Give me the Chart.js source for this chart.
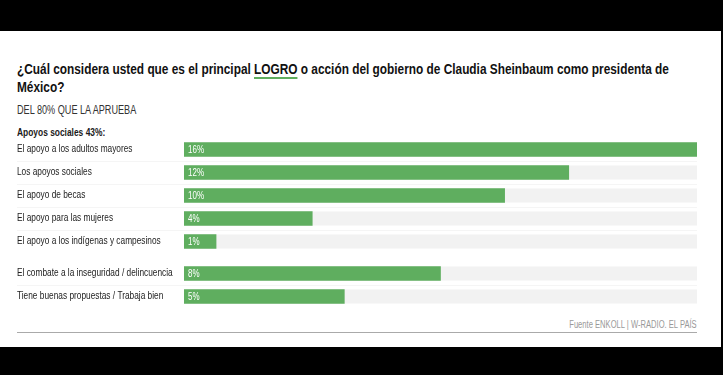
<!DOCTYPE html>
<html>
<head>
<meta charset="utf-8">
<script src="https://cdn.jsdelivr.net/npm/chart.js@4"></script>
<style>
  body { margin: 0; background: #000; width: 723px; height: 375px; overflow: hidden; }
  #panel { position: absolute; left: 0; top: 31px; width: 721px; height: 316px; background: #fff; }
  .txt { position: absolute; font-family: "Liberation Sans", Arial, sans-serif; color: #1a1a1a; white-space: nowrap; transform-origin: left top; }
  #title { left: 17px; top: 29px; font-size: 15px; font-weight: bold; line-height: 18px; color: #111; transform: scaleX(0.79); }
  #title u { text-decoration: none; border-bottom: 2px solid #5fae5f; }
  #subtitle { left: 17px; top: 72px; font-size: 12px; color: #333; transform: scaleX(0.76); }
  #group { left: 17px; top: 95px; font-size: 10.5px; font-weight: bold; transform: scaleX(0.8); }
  #source { right: 24px; top: 288px; font-size: 10px; color: #999; transform-origin: right top; transform: scaleX(0.76); }
  #rule { position: absolute; left: 17px; top: 301px; width: 680px; height: 1px; background: #aaa; }
  .box { position: absolute; left: 17px; width: 680px; }
  #c1box { top: 107px; height: 115px; }
  #c2box { top: 231px; height: 46px; }
</style>
</head>
<body>
<div id="panel">
  <div class="txt" id="title">¿Cuál considera usted que es el principal <u>LOGRO</u> o acción del gobierno de Claudia Sheinbaum como presidenta de<br>México?</div>
  <div class="txt" id="subtitle">DEL 80% QUE LA APRUEBA</div>
  <div class="txt" id="group">Apoyos sociales 43%:</div>
  <div class="box" id="c1box"><canvas id="chart1"></canvas></div>
  <div class="box" id="c2box"><canvas id="chart2"></canvas></div>
  <div class="txt" id="source">Fuente ENKOLL | W-RADIO. EL PAÍS</div>
  <div id="rule"></div>
</div>
<script>
// data
const socialLabels = [
  'El apoyo a los adultos mayores',
  'Los apoyos sociales',
  'El apoyo de becas',
  'El apoyo para las mujeres',
  'El apoyo a los indígenas y campesinos'
];
const socialValues = [16, 12, 10, 4, 1];

const otherLabels = [
  'El combate a la inseguridad / delincuencia',
  'Tiene buenas propuestas / Trabaja bien'
];
const otherValues = [8, 5];

const scaleMax = 16;

const green = '#5fae5f';
const track = '#f2f2f2';
const fontFamily = '"Liberation Sans", Arial, sans-serif';
const narrow = 0.8; // squeeze text horizontally, the original uses a condensed face

// grey track, faint row lines, category labels and value labels
const barExtras = {
  id: 'barExtras',
  beforeDatasetsDraw(chart) {
    const ctx = chart.ctx;
    const area = chart.chartArea;
    const meta = chart.getDatasetMeta(0);
    ctx.save();
    meta.data.forEach((bar, i) => {
      const h = bar.height;
      ctx.fillStyle = track;
      ctx.fillRect(area.left, bar.y - h / 2, area.right - area.left, h);
      if (i < meta.data.length - 1) {
        const next = meta.data[i + 1];
        const y = Math.round((bar.y + next.y) / 2) + 0.5;
        ctx.strokeStyle = '#f5f5f5';
        ctx.lineWidth = 1;
        ctx.beginPath();
        ctx.moveTo(0, y);
        ctx.lineTo(area.right, y);
        ctx.stroke();
      }
    });
    ctx.restore();
  },
  afterDatasetsDraw(chart) {
    const ctx = chart.ctx;
    const meta = chart.getDatasetMeta(0);
    const values = chart.data.datasets[0].data;
    const labels = chart.data.labels;
    ctx.save();
    ctx.textBaseline = 'middle';
    meta.data.forEach((bar, i) => {
      // category label, left aligned at the canvas edge
      ctx.save();
      ctx.translate(0, bar.y);
      ctx.scale(narrow, 1);
      ctx.fillStyle = '#222';
      ctx.font = '10.4px ' + fontFamily;
      ctx.fillText(labels[i], 0, 0);
      ctx.restore();
      // value inside the bar
      ctx.save();
      ctx.translate(bar.base + 4, bar.y + 0.5);
      ctx.scale(narrow, 1);
      ctx.fillStyle = '#fff';
      ctx.font = '10px ' + fontFamily;
      ctx.fillText(values[i] + '%', 0, 0);
      ctx.restore();
    });
    ctx.restore();
  }
};

function makeChart(id, labels, values) {
  return new Chart(document.getElementById(id), {
    type: 'bar',
    data: {
      labels: labels,
      datasets: [{
        data: values,
        backgroundColor: green,
        barThickness: 14,
        borderWidth: 0
      }]
    },
    options: {
      indexAxis: 'y',
      responsive: true,
      maintainAspectRatio: false,
      animation: false,
      layout: { padding: 0 },
      plugins: { legend: { display: false }, tooltip: { enabled: false } },
      scales: {
        x: { min: 0, max: scaleMax, display: false },
        y: {
          grid: { display: false },
          border: { display: false },
          ticks: { display: false },
          afterFit(scale) { scale.width = 167; }
        }
      }
    },
    plugins: [barExtras]
  });
}

makeChart('chart1', socialLabels, socialValues);
makeChart('chart2', otherLabels, otherValues);
</script>
</body>
</html>
